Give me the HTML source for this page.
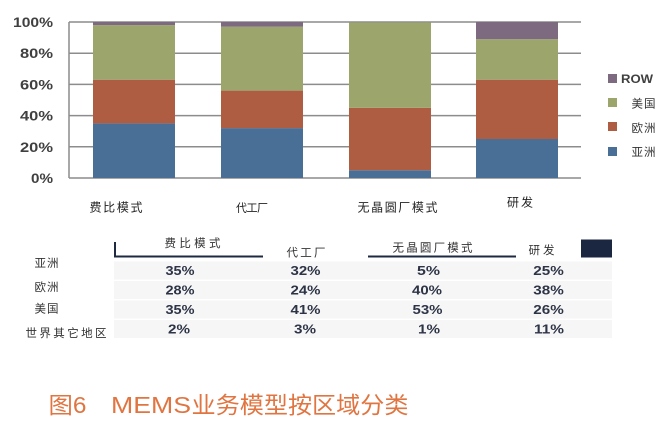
<!DOCTYPE html>
<html><head><meta charset="utf-8"><style>
html,body{margin:0;padding:0;background:#fff;}
svg{display:block;}
text{font-family:"Liberation Sans","Noto Sans CJK SC",sans-serif;}
</style></head><body>
<svg width="672" height="423" viewBox="0 0 672 423" xmlns="http://www.w3.org/2000/svg">
<g stroke="#8c8c8c" stroke-width="1.5">
<line x1="69" y1="22" x2="581" y2="22"/>
<line x1="69" y1="53.2" x2="581" y2="53.2"/>
<line x1="69" y1="84.4" x2="581" y2="84.4"/>
<line x1="69" y1="115.6" x2="581" y2="115.6"/>
<line x1="69" y1="146.8" x2="581" y2="146.8"/>
<line x1="69" y1="178" x2="581" y2="178"/>
<line x1="69" y1="22" x2="69" y2="178"/>
</g>
<g>
<rect x="93" y="123.4" width="82" height="54.6" fill="#4a6f97"/>
<rect x="93" y="79.7" width="82" height="43.7" fill="#ae5c42"/>
<rect x="93" y="25.1" width="82" height="54.6" fill="#9ca66c"/>
<rect x="93" y="22" width="82" height="3.1" fill="#7e6a80"/>

<rect x="221" y="128.1" width="82" height="49.9" fill="#4a6f97"/>
<rect x="221" y="90.6" width="82" height="37.5" fill="#ae5c42"/>
<rect x="221" y="26.7" width="82" height="63.9" fill="#9ca66c"/>
<rect x="221" y="22" width="82" height="4.7" fill="#7e6a80"/>

<rect x="349" y="170.2" width="82" height="7.8" fill="#4a6f97"/>
<rect x="349" y="107.8" width="82" height="62.4" fill="#ae5c42"/>
<rect x="349" y="22.5" width="82" height="85.3" fill="#9ca66c"/>

<rect x="476" y="139" width="82" height="39" fill="#4a6f97"/>
<rect x="476" y="79.7" width="82" height="59.3" fill="#ae5c42"/>
<rect x="476" y="39.2" width="82" height="40.5" fill="#9ca66c"/>
<rect x="476" y="22" width="82" height="17.2" fill="#7e6a80"/>
</g>
<g font-size="14" font-weight="bold" fill="#404040" text-anchor="end">
<text x="53" y="27" textLength="40" lengthAdjust="spacingAndGlyphs">100%</text>
<text x="53" y="58.2" textLength="33" lengthAdjust="spacingAndGlyphs">80%</text>
<text x="53" y="89.4" textLength="33" lengthAdjust="spacingAndGlyphs">60%</text>
<text x="53" y="120.6" textLength="33" lengthAdjust="spacingAndGlyphs">40%</text>
<text x="53" y="151.8" textLength="33" lengthAdjust="spacingAndGlyphs">20%</text>
<text x="53" y="183" textLength="22" lengthAdjust="spacingAndGlyphs">0%</text>
</g>
<g font-size="12" fill="#222">
<text x="89.5" y="211.5" textLength="53" lengthAdjust="spacing">费比模式</text>
<text x="236" y="211.5" font-size="11" textLength="32" lengthAdjust="spacing">代工厂</text>
<text x="357.5" y="211.5" textLength="80" lengthAdjust="spacing">无晶圆厂模式</text>
<text x="507" y="206.5" textLength="26" lengthAdjust="spacing">研发</text>
</g>
<rect x="608" y="74" width="9" height="9" fill="#7e6a80"/>
<rect x="608" y="98" width="9" height="9" fill="#9ca66c"/>
<rect x="608" y="122" width="9" height="9" fill="#ae5c42"/>
<rect x="608" y="147" width="9" height="9" fill="#4a6f97"/>
<text x="621" y="83" font-size="12" font-weight="bold" fill="#404040" textLength="32" lengthAdjust="spacingAndGlyphs">ROW</text>
<g font-size="11.5" fill="#333">
<text x="631.5" y="107.5" textLength="24" lengthAdjust="spacing">美国</text>
<text x="631.5" y="132" textLength="24" lengthAdjust="spacing">欧洲</text>
<text x="631.5" y="156" textLength="24" lengthAdjust="spacing">亚洲</text>
</g>
<g fill="#f6f6f6">
<rect x="114" y="261.5" width="498" height="18"/>
<rect x="114" y="281" width="498" height="18"/>
<rect x="114" y="300.5" width="498" height="18"/>
<rect x="114" y="320" width="498" height="18"/>
</g>
<g fill="#1e2a40">
<rect x="114" y="242" width="2" height="15.5"/>
<rect x="114" y="255.5" width="149" height="2"/>
<rect x="368" y="255.5" width="148" height="2"/>
<rect x="581" y="239.5" width="31" height="18" fill="#1b2640"/>
</g>
<g font-size="11.5" fill="#333">
<text x="164.5" y="247" textLength="56" lengthAdjust="spacing">费比模式</text>
<text x="286.5" y="256.5" textLength="39" lengthAdjust="spacing">代工厂</text>
<text x="392.5" y="251.5" textLength="80" lengthAdjust="spacing">无晶圆厂模式</text>
<text x="528.5" y="254" textLength="26" lengthAdjust="spacing">研发</text>
</g>
<g font-size="11.5" fill="#333">
<text x="34.5" y="267" textLength="24" lengthAdjust="spacing">亚洲</text>
<text x="34.5" y="291" textLength="24" lengthAdjust="spacing">欧洲</text>
<text x="34.5" y="312.5" textLength="24" lengthAdjust="spacing">美国</text>
<text x="25.5" y="337" textLength="81" lengthAdjust="spacing">世界其它地区</text>
</g>
<g font-size="12.5" font-weight="bold" fill="#2d3446" text-anchor="middle">
<text x="180" y="275" textLength="29" lengthAdjust="spacingAndGlyphs">35%</text>
<text x="180" y="294.5" textLength="29" lengthAdjust="spacingAndGlyphs">28%</text>
<text x="180" y="314" textLength="29" lengthAdjust="spacingAndGlyphs">35%</text>
<text x="179" y="333.5" textLength="22" lengthAdjust="spacingAndGlyphs">2%</text>

<text x="305.5" y="275" textLength="30" lengthAdjust="spacingAndGlyphs">32%</text>
<text x="305.5" y="294.5" textLength="30" lengthAdjust="spacingAndGlyphs">24%</text>
<text x="305.5" y="314" textLength="30" lengthAdjust="spacingAndGlyphs">41%</text>
<text x="305" y="333.5" textLength="22" lengthAdjust="spacingAndGlyphs">3%</text>

<text x="428.5" y="275" textLength="23" lengthAdjust="spacingAndGlyphs">5%</text>
<text x="427" y="294.5" textLength="30" lengthAdjust="spacingAndGlyphs">40%</text>
<text x="427.5" y="314" textLength="30" lengthAdjust="spacingAndGlyphs">53%</text>
<text x="429" y="333.5" textLength="22" lengthAdjust="spacingAndGlyphs">1%</text>

<text x="548.5" y="275" textLength="30.5" lengthAdjust="spacingAndGlyphs">25%</text>
<text x="548.5" y="294.5" textLength="30.5" lengthAdjust="spacingAndGlyphs">38%</text>
<text x="548.5" y="314" textLength="30.5" lengthAdjust="spacingAndGlyphs">26%</text>
<text x="549" y="333.5" textLength="30" lengthAdjust="spacingAndGlyphs">11%</text>
</g>
<g font-size="23" fill="#e07541">
<text x="48.5" y="413" textLength="38" lengthAdjust="spacingAndGlyphs">图6</text>
<text x="111" y="413" textLength="80" lengthAdjust="spacingAndGlyphs">MEMS</text>
<text x="191.5" y="413" textLength="217" lengthAdjust="spacingAndGlyphs">业务模型按区域分类</text>
</g>
</svg>
</body></html>
